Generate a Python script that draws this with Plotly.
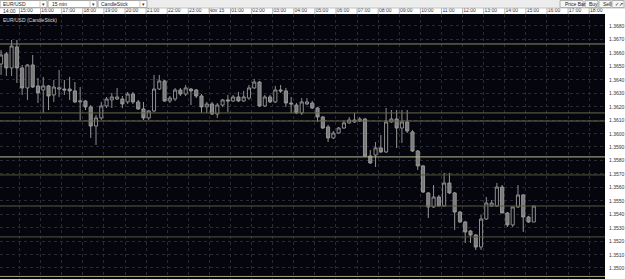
import pandas as pd
import plotly.graph_objects as go

# ---------------- data ----------------
bar_start = "2012-11-14 14:07:30"   # centre of first 15-minute bar
n_bars = 102

open_ = [1.36517, 1.36592, 1.36488, 1.36644, 1.36488, 1.36339, 1.36510, 1.36354, 1.36324, 1.36354,
         1.36287, 1.36331, 1.36331, 1.36331, 1.36317, 1.36235, 1.36242, 1.36198, 1.36056, 1.36116,
         1.36205, 1.36250, 1.36257, 1.36257, 1.36235, 1.36294, 1.36235, 1.36183, 1.36116, 1.36168,
         1.36331, 1.36391, 1.36242, 1.36257, 1.36324, 1.36294, 1.36331, 1.36324, 1.36279, 1.36198,
         1.36220, 1.36145, 1.36212, 1.36250, 1.36242, 1.36272, 1.36242, 1.36264, 1.36339, 1.36383,
         1.36205, 1.36272, 1.36235, 1.36324, 1.36317, 1.36227, 1.36212, 1.36153, 1.36220, 1.36227,
         1.36190, 1.36123, 1.36049, 1.35967, 1.36004, 1.36041, 1.36079, 1.36086, 1.36093, 1.36108,
         1.35833, 1.35840, 1.35893, 1.35863, 1.36086, 1.36108, 1.36041, 1.36086, 1.36012, 1.35870,
         1.35759, 1.35558, 1.35454, 1.35528, 1.35461, 1.35632, 1.35558, 1.35416, 1.35342, 1.35275,
         1.35245, 1.35156, 1.35364, 1.35461, 1.35461, 1.35602, 1.35409, 1.35320, 1.35454, 1.35543,
         1.35379, 1.35342]
high = [1.36621, 1.36607, 1.36696, 1.36696, 1.36510, 1.36517, 1.36584, 1.36413, 1.36421, 1.36361,
        1.36398, 1.36473, 1.36398, 1.36421, 1.36383, 1.36346, 1.36250, 1.36212, 1.36138, 1.36235,
        1.36272, 1.36302, 1.36339, 1.36279, 1.36309, 1.36309, 1.36250, 1.36235, 1.36175, 1.36436,
        1.36436, 1.36398, 1.36279, 1.36339, 1.36339, 1.36361, 1.36339, 1.36331, 1.36294, 1.36235,
        1.36235, 1.36227, 1.36257, 1.36287, 1.36287, 1.36309, 1.36317, 1.36361, 1.36406, 1.36391,
        1.36287, 1.36287, 1.36354, 1.36361, 1.36339, 1.36272, 1.36227, 1.36264, 1.36264, 1.36242,
        1.36198, 1.36131, 1.36064, 1.36019, 1.36049, 1.36093, 1.36123, 1.36153, 1.36123, 1.36116,
        1.35878, 1.35937, 1.35989, 1.36190, 1.36175, 1.36175, 1.36175, 1.36175, 1.36026, 1.35878,
        1.35766, 1.35565, 1.35617, 1.35543, 1.35707, 1.35707, 1.35565, 1.35424, 1.35350, 1.35283,
        1.35253, 1.35394, 1.35528, 1.35506, 1.35632, 1.35617, 1.35416, 1.35454, 1.35617, 1.35550,
        1.35387, 1.35461]
low = [1.36436, 1.36428, 1.36428, 1.36376, 1.36287, 1.36250, 1.36339, 1.36227, 1.36153, 1.36175,
       1.36235, 1.36272, 1.36287, 1.36250, 1.36227, 1.36101, 1.36175, 1.35967, 1.35915, 1.36101,
       1.36190, 1.36190, 1.36250, 1.36190, 1.36220, 1.36220, 1.36175, 1.36101, 1.36101, 1.36160,
       1.36324, 1.36235, 1.36227, 1.36242, 1.36279, 1.36279, 1.36212, 1.36264, 1.36153, 1.36153,
       1.36138, 1.36116, 1.36198, 1.36160, 1.36235, 1.36235, 1.36235, 1.36250, 1.36331, 1.36198,
       1.36198, 1.36227, 1.36227, 1.36302, 1.36198, 1.36153, 1.36145, 1.36138, 1.36212, 1.36183,
       1.36086, 1.36034, 1.35937, 1.35959, 1.35997, 1.36034, 1.36071, 1.36079, 1.36086, 1.35826,
       1.35774, 1.35751, 1.35855, 1.35855, 1.36079, 1.35893, 1.35930, 1.36004, 1.35863, 1.35729,
       1.35558, 1.35372, 1.35446, 1.35454, 1.35454, 1.35550, 1.35283, 1.35335, 1.35186, 1.35186,
       1.35134, 1.35134, 1.35357, 1.35454, 1.35454, 1.35409, 1.35305, 1.35305, 1.35446, 1.35268,
       1.35335, 1.35342]
close = [1.36584, 1.36488, 1.36651, 1.36488, 1.36339, 1.36510, 1.36346, 1.36302, 1.36354, 1.36279,
         1.36346, 1.36339, 1.36324, 1.36317, 1.36235, 1.36242, 1.36198, 1.36056, 1.36116, 1.36205,
         1.36257, 1.36272, 1.36272, 1.36220, 1.36294, 1.36235, 1.36183, 1.36116, 1.36168, 1.36331,
         1.36391, 1.36242, 1.36264, 1.36324, 1.36294, 1.36339, 1.36317, 1.36279, 1.36198, 1.36220,
         1.36145, 1.36212, 1.36250, 1.36242, 1.36272, 1.36242, 1.36272, 1.36339, 1.36383, 1.36205,
         1.36272, 1.36235, 1.36324, 1.36317, 1.36227, 1.36220, 1.36153, 1.36235, 1.36235, 1.36190,
         1.36123, 1.36041, 1.35967, 1.36004, 1.36041, 1.36079, 1.36101, 1.36101, 1.36108, 1.35833,
         1.35781, 1.35893, 1.35863, 1.36086, 1.36108, 1.36041, 1.36086, 1.36019, 1.35870, 1.35759,
         1.35565, 1.35454, 1.35528, 1.35461, 1.35632, 1.35558, 1.35416, 1.35342, 1.35268, 1.35245,
         1.35156, 1.35364, 1.35483, 1.35483, 1.35602, 1.35409, 1.35320, 1.35454, 1.35543, 1.35379,
         1.35342, 1.35461]

# horizontal level lines (price, colour)
levels = [1.36666, 1.36153, 1.36093, 1.35826, 1.35692, 1.35461, 1.35231, 1.34937]
level_colors = ["#8c8c66", "#6a6a4c", "#6a6a4c", "#b8b890", "#55553d", "#5c5c42", "#55553d", "#a4a47c"]

# price axis ticks
y_ticks = [1.3500, 1.3510, 1.3520, 1.3530, 1.3540, 1.3550, 1.3560, 1.3570, 1.3580, 1.3590,
           1.3600, 1.3610, 1.3620, 1.3630, 1.3640, 1.3650, 1.3660, 1.3670, 1.3680]

hour_start = "2012-11-14 14:00"
hour_end = "2012-11-15 18:00"
x_range = ["2012-11-14 14:04:30", "2012-11-15 18:45:00"]
y_range = [1.34918, 1.36889]

# ---------------- figure ----------------
times = pd.date_range(bar_start, periods=n_bars, freq="15min")
hours = pd.date_range(hour_start, hour_end, freq="1h")
hour_text = ["Nov 15" if (h.hour == 0) else h.strftime("%H:%M") for h in hours]

BG = "#05050d"
FONT = "Liberation Sans"
LABEL = "#333333"

fig = go.Figure(go.Candlestick(
    x=times, open=open_, high=high, low=low, close=close,
    increasing=dict(fillcolor=BG, line=dict(color="#8e8e8e", width=1)),
    decreasing=dict(fillcolor="#7a7a7a", line=dict(color="#969696", width=1)),
    whiskerwidth=0,
))

W, H, T, R = 625, 279, 14, 20
plot_w = W - R
plot_h = H - T


def py(ypx):
    return (H - ypx) / plot_h


def px(xpx):
    return xpx / plot_w


shapes = []
for lv, col in zip(levels, level_colors):
    shapes.append(dict(type="line", xref="paper", yref="y", x0=0, x1=1, y0=lv, y1=lv,
                       line=dict(color=col, width=1), layer="above"))

# toolbar
shapes.append(dict(type="rect", xref="paper", yref="paper", x0=0, x1=px(W), y0=py(8), y1=py(-1),
                   fillcolor="#ececec", line=dict(width=0), layer="above"))
shapes.append(dict(type="line", xref="paper", yref="paper", x0=0, x1=px(W), y0=py(8), y1=py(8),
                   line=dict(color="#c4c4c4", width=1)))
boxes = [(0, 40, 47), (48, 90, 97), (98, 140, 147)]
for a, b, c in boxes:
    shapes.append(dict(type="rect", xref="paper", yref="paper", x0=px(a), x1=px(c), y0=py(7.5), y1=py(0.5),
                       fillcolor="white", line=dict(color="#a8a8a8", width=1)))
    shapes.append(dict(type="line", xref="paper", yref="paper", x0=px(b), x1=px(b), y0=py(7.5), y1=py(0.5),
                       line=dict(color="#c8c8c8", width=1)))
for a, c in [(560, 583), (585, 598), (599, 611), (612, 624)]:
    shapes.append(dict(type="rect", xref="paper", yref="paper", x0=px(a), x1=px(c), y0=py(7.5), y1=py(0.5),
                       fillcolor="#f6f6f6", line=dict(color="#b0b0b0", width=1)))
# hour separators in the time row
for h in hours[1:]:
    shapes.append(dict(type="line", xref="x", yref="paper", x0=h, x1=h, y0=1, y1=py(8),
                       line=dict(color="#b4b4b4", width=1)))

annotations = []
tb = [("EUR/USD", 1), ("15 min", 50), ("CandleStick", 99),
      ("Price Bar", 563), ("Buy", 587), ("Sell", 601), ("✓↗", 613)]
for txt, x0 in tb:
    annotations.append(dict(text=txt, xref="paper", yref="paper", x=px(x0), y=py(4), xanchor="left",
                            yanchor="middle", showarrow=False, font=dict(size=5, color="#222", family=FONT)))
for x0 in [43.5, 93.5, 143.5]:
    annotations.append(dict(text="▾", xref="paper", yref="paper", x=px(x0), y=py(4), xanchor="center",
                            yanchor="middle", showarrow=False, font=dict(size=5, color="#333", family=FONT)))
# first hour label (its tick lies just left of the visible range)
annotations.append(dict(text=hour_text[0], xref="paper", yref="paper", x=px(0.5), y=py(11), xanchor="left",
                        yanchor="middle", showarrow=False, font=dict(size=5, color=LABEL, family=FONT)))
annotations.append(dict(text="EUR/USD (CandleStick)", xref="paper", yref="paper", x=px(1), y=py(14.5),
                        xanchor="left", yanchor="top", showarrow=False,
                        font=dict(size=5, color="#d8d8d8", family=FONT)))
# price labels on the right, placed through the y axis scale
for v in y_ticks:
    annotations.append(dict(text=f"{v:.4f}", xref="paper", yref="y", x=px(607), y=v, xanchor="left",
                            yanchor="middle", showarrow=False, font=dict(size=5, color=LABEL, family=FONT)))

fig.update_layout(
    width=W, height=H,
    margin=dict(l=0, r=R, t=T, b=0, pad=0),
    paper_bgcolor="white", plot_bgcolor=BG,
    showlegend=False, boxgap=0.16,
    shapes=shapes, annotations=annotations,
    xaxis=dict(type="date", side="top", range=x_range,
               tickmode="array", tickvals=hours, ticktext=hour_text, ticks="",
               tickfont=dict(size=5, color=LABEL, family=FONT),
               ticklabelshift=7, ticklabeloverflow="allow",
               showgrid=True, gridcolor="#2a2a32", griddash="dot", gridwidth=1,
               zeroline=False, showline=False,
               rangeslider=dict(visible=False), fixedrange=True),
    yaxis=dict(side="right", range=y_range, tickmode="array", tickvals=y_ticks,
               showticklabels=False, ticks="",
               showgrid=True, gridcolor="#2a2a32", griddash="dot", gridwidth=1,
               zeroline=False, showline=False, fixedrange=True),
)

fig.write_html("out.html")
